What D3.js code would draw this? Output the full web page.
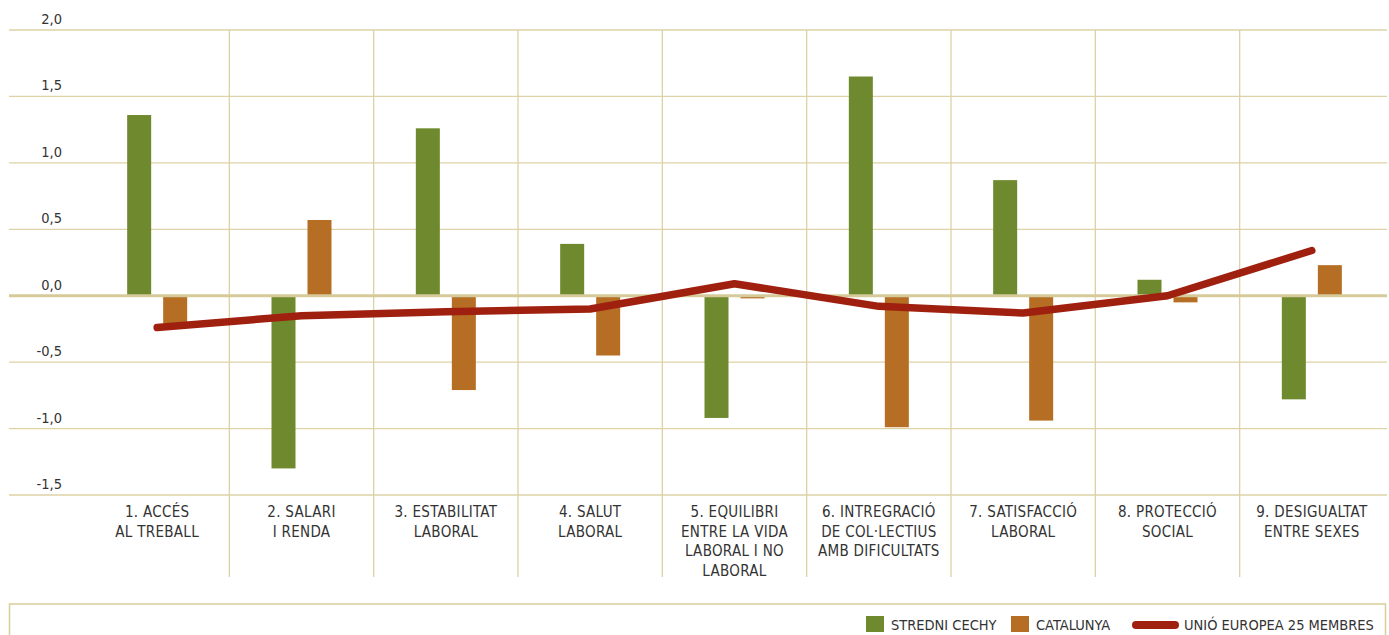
<!DOCTYPE html>
<html lang="ca">
<head>
    <meta charset="UTF-8">
    <title>Qualitat del treball</title>
    <script src="https://d3js.org/d3.v7.min.js"></script>
    <style>
        body { margin: 0; background: #fff; }
        text { font-family: "Liberation Sans Narrow", "DejaVu Sans Condensed", sans-serif; fill: #333; }
    </style>
</head>
<body>
<div id="chart"></div>
<script>
    var width = 1389, height = 635;

    // categories (each label split into lines)
    var categories = [
        ["1. ACCÉS", "AL TREBALL"],
        ["2. SALARI", "I RENDA"],
        ["3. ESTABILITAT", "LABORAL"],
        ["4. SALUT", "LABORAL"],
        ["5. EQUILIBRI", "ENTRE LA VIDA", "LABORAL I NO", "LABORAL"],
        ["6. INTREGRACIÓ", "DE COL·LECTIUS", "AMB DIFICULTATS"],
        ["7. SATISFACCIÓ", "LABORAL"],
        ["8. PROTECCIÓ", "SOCIAL"],
        ["9. DESIGUALTAT", "ENTRE SEXES"]
    ];
    var seriesNames = ["STREDNI CECHY", "CATALUNYA", "UNIÓ EUROPEA 25 MEMBRES"];
    var stredniCechy = [1.36, -1.30, 1.26, 0.39, -0.92, 1.65, 0.87, 0.12, -0.78];
    var catalunya    = [-0.21, 0.57, -0.71, -0.45, -0.02, -0.99, -0.94, -0.05, 0.23];
    var ue25         = [-0.24, -0.15, -0.12, -0.10, 0.09, -0.08, -0.13, 0.00, 0.34];
    var yTicks = [-1.5, -1, -0.5, 0, 0.5, 1, 1.5, 2];

    var colors = { green: "#6f8a2e", orange: "#b56e24", red: "#a0200f", grid: "#ddd2a6", zero: "#d6ca9a" };

    var svg = d3.select("#chart").append("svg")
        .attr("width", width)
        .attr("height", height);

    var idx = d3.range(categories.length);

    var x = d3.scaleBand()
        .domain(idx)
        .range([85, 1384])
        .paddingInner(0).paddingOuter(0);
    var bw = x.bandwidth();

    var x1 = d3.scaleBand()
        .domain([0, 1])
        .range([bw / 2 - 30, bw / 2 + 30])
        .paddingInner(1 / 3);

    var y = d3.scaleLinear()
        .domain([-1.5, 2])
        .range([495, 30]);

    // horizontal grid + y labels
    var fmt = function(d) { return d3.format(".1f")(d).replace(".", ",").replace("−", "-"); };
    svg.append("g").selectAll("line")
        .data(yTicks.filter(function(d) { return d !== 0; }))
        .enter().append("line")
        .attr("x1", 9).attr("x2", 1387)
        .attr("y1", function(d) { return y(d); })
        .attr("y2", function(d) { return y(d); })
        .attr("stroke", colors.grid).attr("stroke-width", 1.3);

    svg.append("g").selectAll("text")
        .data(yTicks)
        .enter().append("text")
        .attr("x", 62)
        .attr("y", function(d) { return y(d) - 6; })
        .attr("text-anchor", "end")
        .style("font-size", "14.5px")
        .text(fmt);

    // vertical separators
    svg.append("g").selectAll("line")
        .data(idx.slice(1))
        .enter().append("line")
        .attr("x1", function(d) { return x(d); })
        .attr("x2", function(d) { return x(d); })
        .attr("y1", y(2)).attr("y2", 577)
        .attr("stroke", colors.grid).attr("stroke-width", 1.3);

    // bars
    var bars = svg.append("g");
    [stredniCechy, catalunya].forEach(function(vals, s) {
        bars.selectAll("rect.s" + s)
            .data(vals)
            .enter().append("rect")
            .attr("class", "s" + s)
            .attr("x", function(d, i) { return x(i) + x1(s); })
            .attr("width", x1.bandwidth())
            .attr("y", function(d) { return y(Math.max(0, d)); })
            .attr("height", function(d) { return Math.abs(y(d) - y(0)); })
            .attr("fill", s === 0 ? colors.green : colors.orange);
    });

    // zero line
    svg.append("line")
        .attr("x1", 9).attr("x2", 1387)
        .attr("y1", y(0)).attr("y2", y(0))
        .attr("stroke", colors.zero).attr("stroke-width", 3);

    // EU-25 line
    var line = d3.line()
        .x(function(d, i) { return x(i) + bw / 2; })
        .y(function(d) { return y(d); });
    svg.append("path")
        .datum(ue25)
        .attr("d", line)
        .attr("fill", "none")
        .attr("stroke", colors.red)
        .attr("stroke-width", 7.5)
        .attr("stroke-linecap", "round")
        .attr("stroke-linejoin", "round");

    // category labels
    var labels = svg.append("g").selectAll("text")
        .data(categories)
        .enter().append("text")
        .attr("x", function(d, i) { return x(i) + bw / 2; })
        .attr("y", 517)
        .attr("text-anchor", "middle")
        .style("font-size", "15px")
        .style("letter-spacing", "0.3px");
    labels.selectAll("tspan")
        .data(function(d) { return d; })
        .enter().append("tspan")
        .attr("x", function() { return d3.select(this.parentNode).attr("x"); })
        .attr("dy", function(d, i) { return i === 0 ? 0 : 19.5; })
        .text(function(d) { return d; });

    // legend box
    svg.append("rect")
        .attr("x", 9.5).attr("y", 604)
        .attr("width", 1376).attr("height", 60)
        .attr("fill", "none")
        .attr("stroke", "#d9cd98").attr("stroke-width", 1.5);

    var lg = svg.append("g");
    lg.append("rect").attr("x", 866).attr("y", 616).attr("width", 18).attr("height", 16).attr("fill", colors.green);
    lg.append("text").attr("x", 891).attr("y", 630).style("font-size", "14.5px").text(seriesNames[0]);
    lg.append("rect").attr("x", 1011).attr("y", 616).attr("width", 18).attr("height", 16).attr("fill", colors.orange);
    lg.append("text").attr("x", 1036).attr("y", 630).style("font-size", "14.5px").text(seriesNames[1]);
    lg.append("line").attr("x1", 1136).attr("x2", 1175).attr("y1", 625).attr("y2", 625)
        .attr("stroke", colors.red).attr("stroke-width", 8).attr("stroke-linecap", "round");
    lg.append("text").attr("x", 1184).attr("y", 630).style("font-size", "14.5px").text(seriesNames[2]);
</script>
</body>
</html>
